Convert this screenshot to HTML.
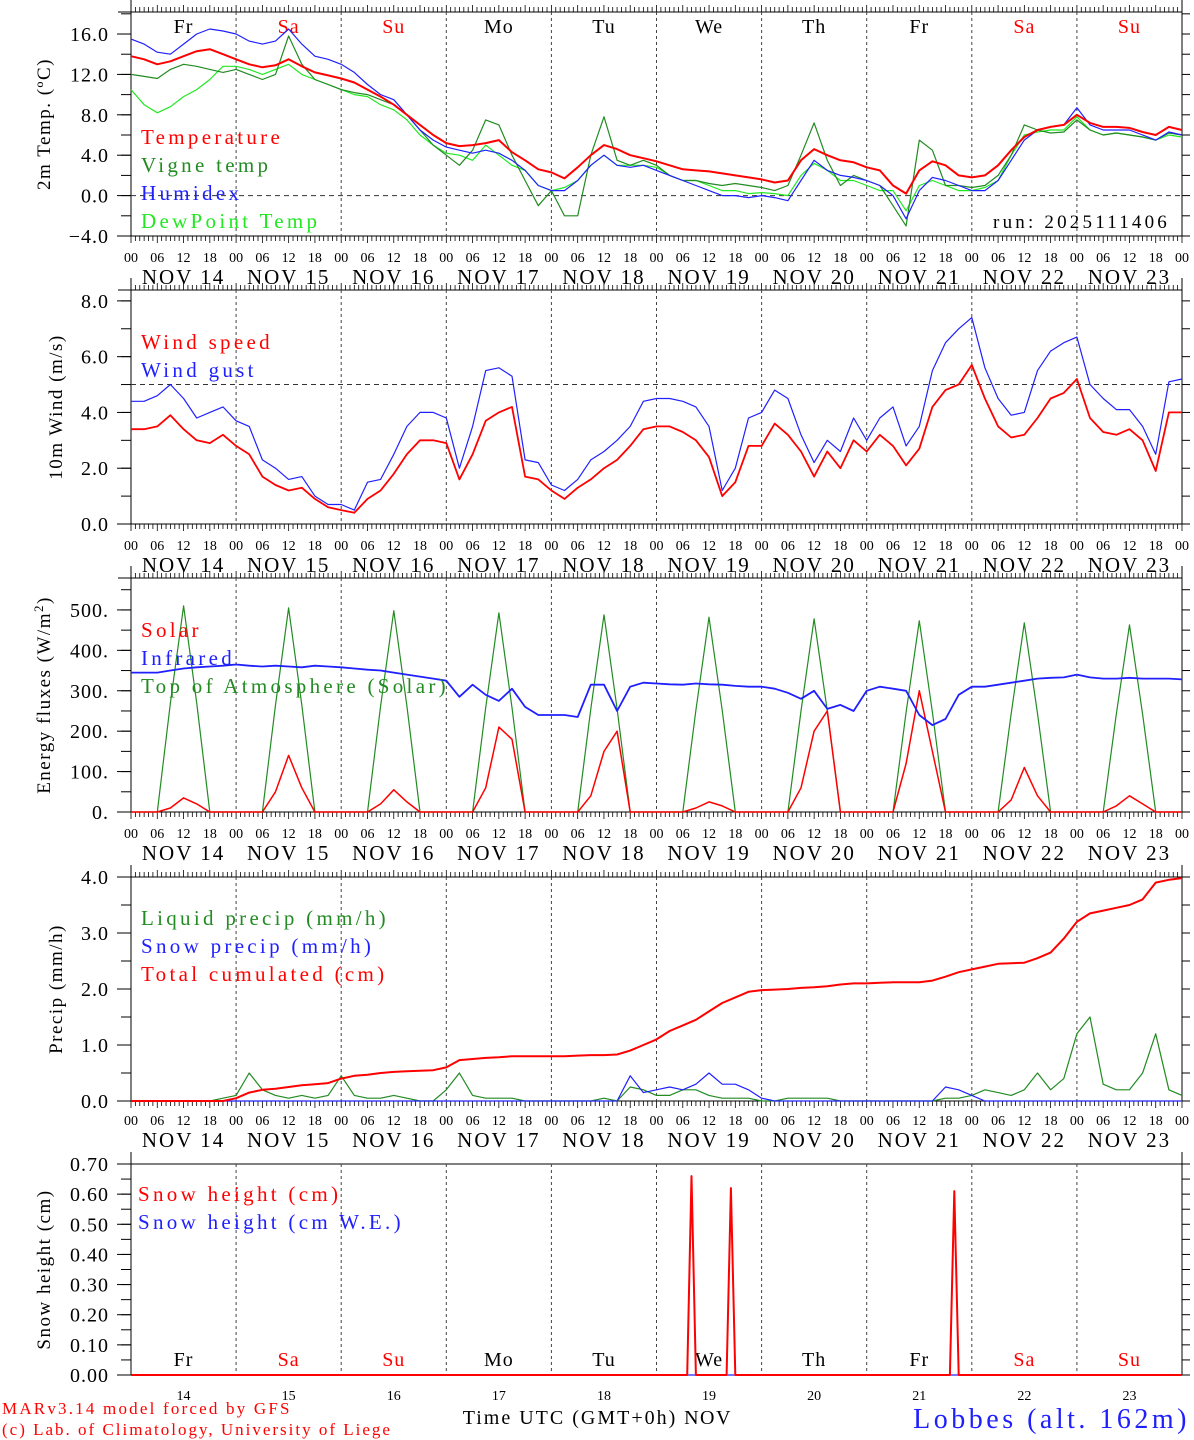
<!DOCTYPE html>
<html><head><meta charset="utf-8"><style>
html,body{margin:0;padding:0;background:#fff;}
svg{display:block;font-family:"Liberation Serif",serif;}
</style></head><body>
<svg id="c" width="1194" height="1440" viewBox="0 0 1194 1440"></svg>
<script>
// ---- data (3-hourly from NOV 14 00 UTC to NOV 24 00 UTC) ----
const days=["14","15","16","17","18","19","20","21","22","23"];
const dayNames=["Fr","Sa","Su","Mo","Tu","We","Th","Fr","Sa","Su"];
const tempT=[13.8,13.5,13.0,13.3,13.8,14.3,14.5,14.0, 13.5,13.0,12.7,12.9,13.5,12.8,12.2,11.9, 11.6,11.2,10.5,9.8,9.0,8.0,7.0,6.0, 5.2,4.9,5.0,5.2,5.5,4.3,3.5,2.6, 2.3,1.7,2.8,4.0,5.0,4.6,4.0,3.7, 3.4,3.0,2.6,2.5,2.4,2.2,2.0,1.8, 1.6,1.3,1.5,3.5,4.6,4.0,3.5,3.3, 2.8,2.5,1.0,0.2,2.5,3.4,3.0,2.0, 1.8,2.0,3.0,4.5,5.8,6.5,6.8,7.0, 8.0,7.2,6.8,6.8,6.7,6.3,6.0,6.8, 6.5];
const tempVigne=[12.0,11.8,11.6,12.5,13.0,12.8,12.5,12.2, 12.5,12.0,11.5,12.0,15.8,13.0,11.5,11.0, 10.5,10.2,10.0,9.5,9.0,8.0,6.5,5.0, 4.0,3.0,4.5,7.5,7.0,4.0,1.5,-1.0, 0.5,-2.0,-2.0,4.0,7.8,3.5,3.0,3.5, 3.0,2.0,1.5,1.5,1.2,1.0,1.2,1.0, 0.8,0.5,1.0,4.0,7.2,3.5,1.0,2.0, 1.5,1.0,-1.0,-3.0,5.5,4.5,1.0,1.0, 0.8,1.0,2.0,4.0,7.0,6.5,6.2,6.3, 7.5,6.5,6.0,6.2,6.0,5.8,5.5,6.2, 6.0];
const tempHumidex=[15.5,15.0,14.2,14.0,15.0,16.0,16.5,16.3, 16.0,15.3,15.0,15.3,16.5,15.0,13.8,13.5, 13.0,12.2,11.0,10.0,9.5,8.0,6.5,5.5, 4.8,4.5,4.2,4.5,4.2,3.5,2.5,1.0, 0.5,0.5,1.5,3.0,4.0,3.0,2.8,3.0, 2.5,2.0,1.5,1.0,0.5,0.0,0.0,-0.2, 0.0,-0.2,-0.5,1.5,3.5,2.5,2.0,1.8, 1.5,1.0,0.0,-2.3,0.5,1.8,1.5,1.0, 0.5,0.5,1.5,3.5,5.5,6.5,6.8,7.0, 8.7,7.0,6.5,6.5,6.5,6.0,5.5,6.3, 6.0];
const tempDew=[10.5,9.0,8.2,8.8,9.8,10.5,11.5,12.8, 12.8,12.5,12.0,12.5,13.0,12.0,11.5,11.0, 10.5,10.0,9.8,9.0,8.5,7.5,6.0,5.0, 4.2,4.0,3.5,5.0,4.0,3.0,2.5,1.0, 0.5,0.8,1.5,3.0,4.0,3.0,3.0,3.0, 2.8,2.0,1.5,1.5,1.0,0.5,0.5,0.2, 0.3,0.2,0.0,2.0,3.2,2.5,1.5,1.5, 1.0,0.5,0.5,-1.5,1.0,1.5,1.0,0.5, 0.5,0.8,1.5,4.0,6.0,6.3,6.5,6.5, 7.8,6.5,6.0,6.2,6.0,5.8,5.5,6.0, 5.8];
const windSpeed=[3.4,3.4,3.5,3.9,3.4,3.0,2.9,3.2, 2.8,2.5,1.7,1.4,1.2,1.3,0.9,0.6, 0.5,0.4,0.9,1.2,1.8,2.5,3.0,3.0, 2.9,1.6,2.5,3.7,4.0,4.2,1.7,1.6, 1.2,0.9,1.3,1.6,2.0,2.3,2.8,3.4, 3.5,3.5,3.3,3.0,2.4,1.0,1.5,2.8, 2.8,3.6,3.2,2.6,1.7,2.6,2.0,3.0, 2.6,3.2,2.8,2.1,2.7,4.2,4.8,5.0, 5.7,4.5,3.5,3.1,3.2,3.8,4.5,4.7, 5.2,3.8,3.3,3.2,3.4,3.0,1.9,4.0, 4.0];
const windGust=[4.4,4.4,4.6,5.0,4.5,3.8,4.0,4.2, 3.7,3.5,2.3,2.0,1.6,1.7,1.0,0.7, 0.7,0.5,1.5,1.6,2.5,3.5,4.0,4.0, 3.8,2.0,3.5,5.5,5.6,5.3,2.3,2.2, 1.4,1.2,1.6,2.3,2.6,3.0,3.5,4.4, 4.5,4.5,4.4,4.2,3.5,1.2,2.0,3.8, 4.0,4.8,4.5,3.2,2.2,3.0,2.6,3.8, 3.0,3.8,4.2,2.8,3.5,5.5,6.5,7.0, 7.4,5.6,4.5,3.9,4.0,5.5,6.2,6.5, 6.7,5.0,4.5,4.1,4.1,3.5,2.5,5.1, 5.2];
const solar=[0,0,0,10,35,20,0,0, 0,0,0,50,140,60,0,0, 0,0,0,20,55,25,0,0, 0,0,0,60,210,180,0,0, 0,0,0,40,150,200,0,0, 0,0,0,10,25,15,0,0, 0,0,0,60,200,250,0,0, 0,0,0,120,300,150,0,0, 0,0,0,30,110,40,0,0, 0,0,0,15,40,20,0,0, 0];
const infrared=[345,345,345,350,355,358,360,362, 365,362,360,362,360,358,362,360, 358,355,352,350,345,340,335,330, 325,285,315,290,275,305,260,240, 240,240,235,315,315,250,310,320, 318,316,315,318,316,315,312,310, 310,305,295,280,300,255,265,250, 300,310,305,300,240,215,230,290, 310,310,315,320,325,330,332,333, 340,333,330,330,332,330,330,330, 328];
const toaSolar=[0,0,0,270,510,270,0,0, 0,0,0,265,505,265,0,0, 0,0,0,262,498,262,0,0, 0,0,0,258,493,258,0,0, 0,0,0,255,488,255,0,0, 0,0,0,252,482,252,0,0, 0,0,0,250,478,250,0,0, 0,0,0,247,473,247,0,0, 0,0,0,244,468,244,0,0, 0,0,0,242,463,242,0,0, 0];
const liquidPrecip=[0,0,0,0,0,0,0,0.05, 0.1,0.5,0.2,0.1,0.05,0.1,0.05,0.1, 0.45,0.1,0.05,0.05,0.1,0.05,0,0, 0.2,0.5,0.1,0.05,0.05,0.05,0,0, 0,0,0,0,0.05,0,0.25,0.2, 0.1,0.1,0.2,0.2,0.1,0.05,0.05,0.05, 0,0,0.05,0.05,0.05,0.05,0,0, 0,0,0,0,0,0,0.05,0.05, 0.1,0.2,0.15,0.1,0.2,0.5,0.2,0.4, 1.2,1.5,0.3,0.2,0.2,0.5,1.2,0.2, 0.1];
const snowPrecip=[0,0,0,0,0,0,0,0, 0,0,0,0,0,0,0,0, 0,0,0,0,0,0,0,0, 0,0,0,0,0,0,0,0, 0,0,0,0,0,0,0.45,0.15, 0.2,0.25,0.2,0.3,0.5,0.3,0.3,0.2, 0.05,0,0,0,0,0,0,0, 0,0,0,0,0,0,0.25,0.2, 0.1,0,0,0,0,0,0,0, 0,0,0,0,0,0,0,0, 0];
const cumulPrecip=[0,0,0,0,0,0,0,0, 0.05,0.15,0.2,0.22,0.25,0.28,0.3,0.32, 0.4,0.45,0.47,0.5,0.52,0.53,0.54,0.55, 0.6,0.73,0.75,0.77,0.78,0.8,0.8,0.8, 0.8,0.8,0.81,0.82,0.82,0.83,0.9,1.0, 1.1,1.25,1.35,1.45,1.6,1.75,1.85,1.95, 1.98,1.99,2.0,2.02,2.03,2.05,2.08,2.1, 2.1,2.11,2.12,2.12,2.12,2.15,2.22,2.3, 2.35,2.4,2.45,2.46,2.47,2.55,2.65,2.9, 3.2,3.35,3.4,3.45,3.5,3.6,3.9,3.95, 3.98];
const snowHours=[0,127,128,129,136,137,138,187,188,189,240];
const snowHeight=[0,0,0.66,0,0,0.62,0,0,0.61,0,0];
const snowWE=[0,0,0,0,0,0,0,0,0,0,0];

// ---- drawing ----
const svg=document.getElementById('c');
const NS='http://www.w3.org/2000/svg';
const X0=131,X1=1182,H=240;
const xs=h=>X0+h*(X1-X0)/H;
function el(tag,attrs,parent){const e=document.createElementNS(NS,tag);for(const k in attrs)e.setAttribute(k,attrs[k]);(parent||svg).appendChild(e);return e;}
function txt(s,x,y,size,fill,anchor,parent,extra){const t=el('text',Object.assign({x:x,y:y,'font-size':size,fill:fill,'text-anchor':anchor||'start'},extra||{}),parent);t.textContent=s;return t;}

function panel(name,top,bot,vmin,vmax,ticks,fmt,minorStep,title,titleX,hourly){
  const g=el('g',{});
  
  
  const ys=v=>bot-(v-vmin)*(bot-top)/(vmax-vmin);
  el('rect',{x:X0,y:top,width:X1-X0,height:bot-top,fill:'none',stroke:'#000','stroke-width':1},g);
  el('line',{x1:118,y1:top,x2:X0,y2:top,stroke:'#000'},g);
  el('line',{x1:X0,y1:top-12,x2:X0,y2:top,stroke:'#000'},g);
  el('line',{x1:X1,y1:top-12,x2:X1,y2:top,stroke:'#000'},g);
  for(let d=1;d<10;d++){el('line',{x1:xs(d*24),y1:top,x2:xs(d*24),y2:bot,stroke:'#444','stroke-dasharray':'3,3'},g);}
  if(hourly){
    for(let h=0;h<=H;h++){const x=xs(h);const L=(h%6===0)?7:5;
      el('line',{x1:x,y1:bot,x2:x,y2:bot+L,stroke:'#000','stroke-width':0.8},g);
      el('line',{x1:x,y1:top,x2:x,y2:top-L,stroke:'#000','stroke-width':0.8},g);}
  }
  for(let v=vmin;v<=vmax+1e-9;v+=minorStep){const y=ys(v);el('line',{x1:X0-10,y1:y,x2:X0,y2:y,stroke:'#000'},g);el('line',{x1:X1,y1:y,x2:X1+8,y2:y,stroke:'#000'},g);}
  ticks.forEach(v=>{const y=ys(v);el('line',{x1:X0-14,y1:y,x2:X0,y2:y,stroke:'#000'},g);txt(fmt(v),X0-22,y+7,20,'#000','end',g,{'letter-spacing':'1'});});
  const t=txt('',titleX,(top+bot)/2,19,'#000','middle',g,{transform:'rotate(-90 '+titleX+' '+((top+bot)/2)+')','letter-spacing':'1.5'});
  t.innerHTML=title;
  return {g,ys};
}
function xlabels(y){
  const g=el('g',{});
  
  
  for(let h=0;h<=H;h+=6){txt(String(h%24).padStart(2,'0'),xs(h),y,14,'#000','middle',g);}
  days.forEach((d,i)=>txt('NOV '+d,xs(i*24+12),y+22,21,'#000','middle',g,{'letter-spacing':'2'}));
}
function series(p,vals,hours,color,w,name){
  let d='';vals.forEach((v,i)=>{d+=(i?'L':'M')+xs(hours?hours[i]:i*3).toFixed(1)+','+p.ys(v).toFixed(1);});
  const path=el('path',{d:d,fill:'none',stroke:color,'stroke-width':w,'stroke-linejoin':'round'},p.g);
  
  
}
function legend(p,items,x,y0,dy){
  items.forEach((it,i)=>{const t=txt(it[0],x,y0+i*dy,21,it[1],'start',p.g,{'letter-spacing':'3.3'});
    
    });
}

const p1=panel('temperature',12,236,-4,18.18,[-4,0,4,8,12,16],v=>(v<0?'\u2212':'')+Math.abs(v).toFixed(1),2,'2m Temp. (<tspan>º</tspan>C)',50,true);
el('line',{x1:X0,y1:p1.ys(0),x2:X1,y2:p1.ys(0),stroke:'#333','stroke-dasharray':'5,4'},p1.g);
dayNames.forEach((n,i)=>txt(n,xs(i*24+12),33,20,(n==='Sa'||n==='Su')?'#f00':'#000','middle',p1.g,{'letter-spacing':'1'}));
series(p1,tempDew,null,'#22e822',1.2,'dewpoint-line');
series(p1,tempVigne,null,'#228b22',1.2,'vigne-temp-line');
series(p1,tempHumidex,null,'#2020ff',1.2,'humidex-line');
series(p1,tempT,null,'#f00',2,'temperature-line');
legend(p1,[['Temperature','#f00'],['Vigne temp','#228b22'],['Humidex','#2020ff'],['DewPoint Temp','#22e822']],141,144,28);
txt('run: 2025111406',1170,228,19,'#000','end',p1.g,{'letter-spacing':'3.2'});
xlabels(262);

const p2=panel('wind',290,524,0,8.39,[0,2,4,6,8],v=>v.toFixed(1),1,'10m Wind (m/s)',62,true);
el('line',{x1:X0,y1:p2.ys(5),x2:X1,y2:p2.ys(5),stroke:'#333','stroke-dasharray':'5,4'},p2.g);
series(p2,windGust,null,'#2020ff',1.2,'wind-gust-line');
series(p2,windSpeed,null,'#f00',1.8,'wind-speed-line');
legend(p2,[['Wind speed','#f00'],['Wind gust','#2020ff']],141,349,28);
xlabels(550);

const p3=panel('energy',578,812,0,579,[0,100,200,300,400,500],v=>v+'.',50,'Energy fluxes (W/m<tspan dy="-7" font-size="13">2</tspan><tspan dy="7">)</tspan>',50,true);
series(p3,toaSolar,null,'#228b22',1.2,'toa-solar-line');
series(p3,solar,null,'#f00',1.5,'solar-line');
series(p3,infrared,null,'#2020ff',1.8,'infrared-line');
legend(p3,[['Solar','#f00'],['Infrared','#2020ff'],['Top of Atmosphere (Solar)','#228b22']],141,637,28);
xlabels(838);

const p4=panel('precip',877,1101,0,4,[0,1,2,3,4],v=>v.toFixed(1),0.5,'Precip (mm/h)',62,true);
series(p4,liquidPrecip,null,'#228b22',1.2,'liquid-precip-line');
series(p4,snowPrecip,null,'#2020ff',1.2,'snow-precip-line');
series(p4,cumulPrecip,null,'#f00',2,'cumulated-precip-line');
legend(p4,[['Liquid precip (mm/h)','#228b22'],['Snow precip (mm/h)','#2020ff'],['Total cumulated (cm)','#f00']],141,925,28);
xlabels(1125);

const p5=panel('snow',1164,1375,0,0.7,[0,0.1,0.2,0.3,0.4,0.5,0.6,0.7],v=>v.toFixed(2),0.05,'Snow height (cm)',50,false);
dayNames.forEach((n,i)=>txt(n,xs(i*24+12),1366,20,(n==='Sa'||n==='Su')?'#f00':'#000','middle',p5.g,{'letter-spacing':'1'}));
series(p5,snowWE,snowHours,'#2020ff',1.2,'snow-we-line');
series(p5,snowHeight,snowHours,'#f00',2,'snow-height-line');
legend(p5,[['Snow height (cm)','#f00'],['Snow height (cm W.E.)','#2020ff']],138,1201,28);
days.forEach((d,i)=>txt(d,xs(i*24+12),1400,14,'#000','middle',p5.g));

const f=el('g',{});


txt('MARv3.14 model forced by GFS',2,1414,17,'#f00','start',f,{'letter-spacing':'2.2'});
txt('(c) Lab. of Climatology, University of Liege',2,1435,17,'#f00','start',f,{'letter-spacing':'2'});
txt('Time UTC (GMT+0h)',570,1424,20,'#000','middle',f,{'letter-spacing':'2'});
txt('NOV',708,1424,20,'#000','middle',f,{'letter-spacing':'1.5'});
txt('Lobbes (alt. 162m)',1190,1428,28,'#2020ff','end',f,{'letter-spacing':'3.5'});
</script>
</body></html>
